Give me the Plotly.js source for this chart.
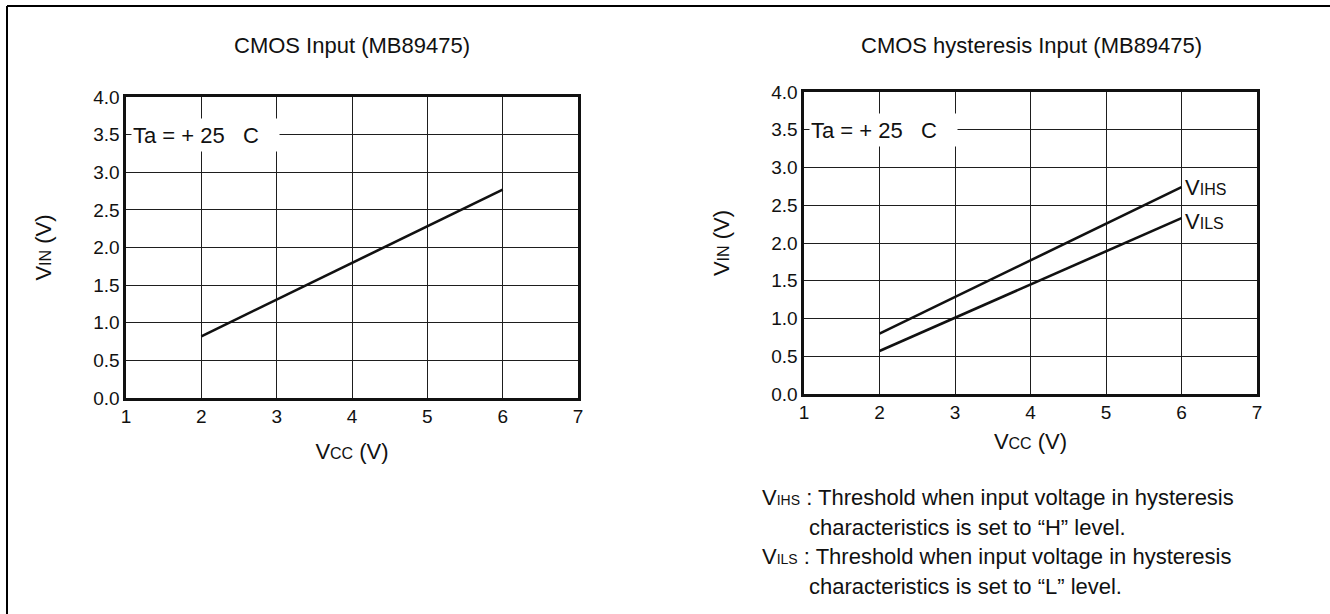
<!DOCTYPE html>
<html>
<head>
<meta charset="utf-8">
<script src="https://cdn.plot.ly/plotly-3.0.1.min.js"></script>
<style>html,body{margin:0;padding:0;background:#fff;}#chart{width:1330px;height:614px;}</style>
</head>
<body>
<div id="chart"></div>
<script>
// ---- data ----
const vccPoints = [2, 6];                 // Vcc (V)
const vinCmos = [0.82, 2.77];             // CMOS input threshold (V)
const vihs = [0.80, 2.74];                // hysteresis H threshold (V)
const vils = [0.57, 2.33];                // hysteresis L threshold (V)
const xTicks = [1, 2, 3, 4, 5, 6, 7];
const yTicks = [0, 0.5, 1, 1.5, 2, 2.5, 3, 3.5, 4];
const leftTitle = "CMOS Input (MB89475)";
const rightTitle = "CMOS hysteresis Input (MB89475)";
const tempLabel = "Ta = + 25\u00A0\u00A0\u00A0C";
const noteH = ["V<span style='font-size:14px'>IHS</span> : Threshold when input voltage in hysteresis", "characteristics is set to \u201CH\u201D level."];
const noteL = ["V<span style='font-size:14px'>ILS</span> : Threshold when input voltage in hysteresis", "characteristics is set to \u201CL\u201D level."];

const W = 1330, H = 614;
const px = v => v / W;
const py = v => 1 - v / H;
const FONT = "Liberation Sans, Arial, Helvetica, sans-serif";
const INK = "#111111";

const lineStyle = {color: INK, width: 2.6};

const traces = [
  {x: vccPoints, y: vinCmos, mode: "lines", line: lineStyle, xaxis: "x", yaxis: "y", hoverinfo: "skip", showlegend: false},
  {x: vccPoints, y: vihs, mode: "lines", line: lineStyle, xaxis: "x2", yaxis: "y2", hoverinfo: "skip", showlegend: false},
  {x: vccPoints, y: vils, mode: "lines", line: lineStyle, xaxis: "x2", yaxis: "y2", hoverinfo: "skip", showlegend: false}
];

function xAxis(domain, anchor, standoff) {
  return {
    domain: domain, anchor: anchor, range: [1, 7], tickvals: xTicks,
    showgrid: true, gridcolor: "#1e1e1e", gridwidth: 1,
    showline: true, linecolor: INK, linewidth: 2.6, mirror: true,
    ticks: "", zeroline: false, fixedrange: true,
    tickfont: {family: FONT, size: 19, color: INK},
    title: {text: "V<span style='font-size:16px'>CC</span> (V)", font: {family: FONT, size: 22, color: INK}, standoff: standoff}
  };
}
function yAxis(domain, anchor, standoff) {
  return {
    domain: domain, anchor: anchor, range: [0, 4], tickvals: yTicks, tickformat: ".1f",
    showgrid: true, gridcolor: "#1e1e1e", gridwidth: 1,
    showline: true, linecolor: INK, linewidth: 2.6, mirror: true,
    ticks: "", zeroline: false, fixedrange: true,
    tickfont: {family: FONT, size: 19, color: INK},
    title: {text: "V<span style='font-size:16px'>IN</span> (V)", font: {family: FONT, size: 22, color: INK}, standoff: standoff}
  };
}

const annotations = [
  {xref: "paper", yref: "paper", x: px(352), y: py(45), text: leftTitle, showarrow: false, xanchor: "center", yanchor: "middle", font: {family: FONT, size: 22, color: INK}},
  {xref: "paper", yref: "paper", x: px(1031), y: py(45), text: rightTitle, showarrow: false, xanchor: "center", yanchor: "middle", font: {family: FONT, size: 22, color: INK}},
  {xref: "x", yref: "y", x: 1.06, y: 3.5, text: tempLabel, showarrow: false, xanchor: "left", yanchor: "middle", align: "left", width: 145, height: 30, bgcolor: "#ffffff", font: {family: FONT, size: 22, color: INK}},
  {xref: "x2", yref: "y2", x: 1.06, y: 3.5, text: tempLabel, showarrow: false, xanchor: "left", yanchor: "middle", align: "left", width: 145, height: 30, bgcolor: "#ffffff", font: {family: FONT, size: 22, color: INK}},
  {xref: "x2", yref: "y2", x: 6, y: vihs[1], text: "V<span style='font-size:16px'>IHS</span>", showarrow: false, xanchor: "left", yanchor: "middle", xshift: 1, yshift: 0, font: {family: FONT, size: 22, color: INK}},
  {xref: "x2", yref: "y2", x: 6, y: vils[1], text: "V<span style='font-size:16px'>ILS</span>", showarrow: false, xanchor: "left", yanchor: "middle", xshift: 1, yshift: -3, font: {family: FONT, size: 22, color: INK}},
  {xref: "paper", yref: "paper", x: px(760), y: py(497), text: noteH[0], showarrow: false, xanchor: "left", yanchor: "middle", font: {family: FONT, size: 22, color: INK}},
  {xref: "paper", yref: "paper", x: px(807), y: py(527), text: noteH[1], showarrow: false, xanchor: "left", yanchor: "middle", font: {family: FONT, size: 22, color: INK}},
  {xref: "paper", yref: "paper", x: px(760), y: py(556), text: noteL[0], showarrow: false, xanchor: "left", yanchor: "middle", font: {family: FONT, size: 22, color: INK}},
  {xref: "paper", yref: "paper", x: px(807), y: py(586), text: noteL[1], showarrow: false, xanchor: "left", yanchor: "middle", font: {family: FONT, size: 22, color: INK}}
];

const shapes = [
  {type: "line", xref: "paper", yref: "paper", x0: px(7), y0: py(6), x1: 1.01, y1: py(6), line: {color: "#000", width: 2}},
  {type: "line", xref: "paper", yref: "paper", x0: px(7), y0: py(6), x1: px(7), y1: -0.01, line: {color: "#000", width: 2}}
];

const layout = {
  width: W, height: H,
  margin: {l: 0, r: 0, t: 0, b: 0},
  paper_bgcolor: "#ffffff", plot_bgcolor: "#ffffff",
  showlegend: false,
  font: {family: FONT, color: INK},
  xaxis: xAxis([px(126), px(578)], "y", 17),
  yaxis: yAxis([py(398), py(97)], "x", 36),
  xaxis2: xAxis([px(804), px(1257)], "y2", 11),
  yaxis2: yAxis([py(394), py(92)], "x2", 36),
  annotations: annotations,
  shapes: shapes
};

Plotly.newPlot("chart", traces, layout, {displayModeBar: false, staticPlot: true});
</script>
</body>
</html>
